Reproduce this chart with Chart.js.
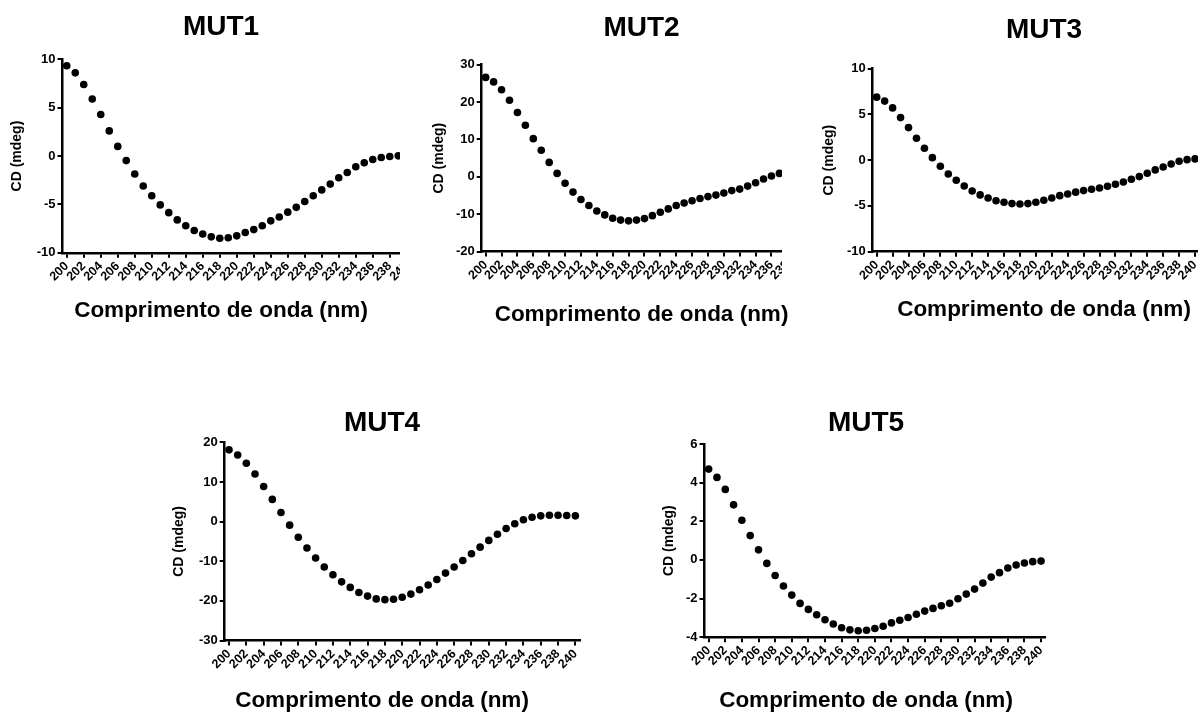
<!DOCTYPE html>
<html><head><meta charset="utf-8">
<script src="https://cdn.jsdelivr.net/npm/chart.js@4.4.1/dist/chart.umd.min.js"></script>
<style>
html,body{margin:0;padding:0;background:#fff;width:1198px;height:713px;overflow:hidden;position:relative;}
.wrap{position:absolute;}
.wrap canvas{position:absolute;left:0;top:0;}
</style></head><body>
<script>
// ---- data ----
const wavelengths = ['200','201','202','203','204','205','206','207','208','209','210','211','212','213','214','215','216','217','218','219','220','221','222','223','224','225','226','227','228','229','230','231','232','233','234','235','236','237','238','239','240'];
const mut1 = [9.34,8.6,7.4,5.9,4.3,2.6,1.0,-0.47,-1.85,-3.1,-4.1,-5.05,-5.85,-6.6,-7.2,-7.7,-8.05,-8.35,-8.5,-8.45,-8.25,-7.9,-7.6,-7.2,-6.7,-6.3,-5.8,-5.3,-4.7,-4.1,-3.5,-2.9,-2.25,-1.7,-1.1,-0.7,-0.35,-0.15,-0.05,0.02,null];
const mut2 = [26.6,25.4,23.3,20.5,17.2,13.8,10.2,7.1,3.85,0.9,-1.75,-4.1,-6.1,-7.7,-9.15,-10.2,-11.1,-11.6,-11.8,-11.6,-11.2,-10.4,-9.5,-8.6,-7.7,-7.0,-6.4,-5.8,-5.3,-4.9,-4.35,-3.7,-3.3,-2.5,-1.6,-0.6,0.2,0.9,1.2,null,null];
const mut3 = [6.87,6.44,5.7,4.64,3.55,2.39,1.29,0.27,-0.67,-1.51,-2.2,-2.82,-3.37,-3.8,-4.13,-4.43,-4.6,-4.75,-4.79,-4.75,-4.6,-4.39,-4.13,-3.88,-3.7,-3.5,-3.33,-3.19,-3.04,-2.86,-2.64,-2.39,-2.09,-1.8,-1.44,-1.07,-0.75,-0.42,-0.13,0.05,0.13];
const mut4 = [18.1,16.8,14.7,12.0,8.85,5.6,2.3,-0.9,-3.95,-6.65,-9.2,-11.45,-13.4,-15.2,-16.6,-17.9,-18.8,-19.5,-19.7,-19.6,-19.1,-18.3,-17.2,-16.0,-14.6,-13.0,-11.45,-9.8,-8.1,-6.45,-4.75,-3.2,-1.75,-0.55,0.45,1.1,1.45,1.6,1.6,1.55,1.45];
const mut5 = [4.70,4.27,3.65,2.85,2.05,1.26,0.52,-0.18,-0.81,-1.35,-1.82,-2.25,-2.56,-2.84,-3.1,-3.32,-3.51,-3.62,-3.67,-3.64,-3.55,-3.43,-3.26,-3.12,-2.98,-2.81,-2.65,-2.51,-2.37,-2.24,-2.01,-1.77,-1.51,-1.2,-0.89,-0.66,-0.42,-0.26,-0.16,-0.09,-0.06];
const titles = ['MUT1','MUT2','MUT3','MUT4','MUT5'];
const series = [mut1, mut2, mut3, mut4, mut5];
const yMins = [-10,-20,-10,-30,-4];
const yMaxs = [10,30,10,20,6];
const ySteps = [5,10,5,10,2];
const xTitle = 'Comprimento de onda (nm)';
const yTitle = 'CD (mdeg)';

// ---- layout (page pixels) ----
const layouts = [
  {cx:0,   cy:0,   L:62.5,  R:411,    T:59.3,  B:252.3, C:221,   ty:27,  xty:310, ytx:17,    clip:[[400,0],[400,2000]]},
  {cx:405, cy:0,   L:481.7, R:806.8,  T:64.7,  B:251,   C:641.3, ty:28,  xty:314, ytx:439,   clip:[[782,0],[782,292],[792,292],[792,2000]]},
  {cx:800, cy:0,   L:872.7, R:1199,   T:68.5,  B:251.2, C:1044,  ty:30,  xty:309, ytx:829.5, clip:null},
  {cx:150, cy:390, L:224.7, R:579.7,  T:442.3, B:640,   C:382,   ty:423, xty:700, ytx:179.5, clip:null},
  {cx:630, cy:390, L:704.5, R:1045.2, T:444,   B:636.7, C:866,   ty:423, xty:700, ytx:669.5, clip:null}
];

const FAMILY = "'Liberation Sans', Arial, Helvetica, sans-serif";
Chart.defaults.font.family = FAMILY;
Chart.defaults.color = '#000';

const TITLE_SIZE = 28, SUB_SIZE = 22.5, YT_SIZE = 14;
const titleLH = TITLE_SIZE * 1.2, subLH = SUB_SIZE * 1.2, ytLH = YT_SIZE * 1.2;
const SBP = 2;

layouts.forEach((g, k) => {
  const tp = g.ty - g.cy - titleLH / 2;
  const bp = g.T - g.cy - titleLH - tp;
  const Hx = g.xty - subLH / 2 - g.B;
  const Hc = g.B + Hx + subLH + SBP - g.cy;
  const Wc = 2 * (g.C - g.cx);
  const Wy = g.L - g.cx;
  const Wr = Wc - Wy - (g.R - g.L);
  const ytp = g.ytx - g.cx - ytLH / 2;

  const wrap = document.createElement('div');
  wrap.className = 'wrap';
  wrap.style.left = g.cx + 'px';
  wrap.style.top = g.cy + 'px';
  wrap.style.width = Wc + 'px';
  wrap.style.height = Hc + 'px';
  if (g.clip) {
    const pts = [[0,0]].concat(g.clip.map(p => [p[0] - g.cx, p[1]])).concat([[0,2000]]);
    wrap.style.clipPath = 'polygon(' + pts.map(p => p[0] + 'px ' + p[1] + 'px').join(',') + ')';
  }
  document.body.appendChild(wrap);
  const cv = document.createElement('canvas');
  cv.width = Math.round(Wc); cv.height = Math.round(Hc);
  cv.style.width = Math.round(Wc) + 'px'; cv.style.height = Math.round(Hc) + 'px';
  wrap.appendChild(cv);

  new Chart(cv, {
    type: 'line',
    data: {
      labels: wavelengths,
      datasets: [{
        data: series[k],
        showLine: false,
        pointRadius: 3.8,
        pointHoverRadius: 3.8,
        pointBackgroundColor: '#000',
        pointBorderColor: '#000',
        pointBorderWidth: 0,
        borderColor: '#000'
      }]
    },
    options: {
      responsive: false,
      animation: false,
      events: [],
      layout: {padding: 0},
      plugins: {
        legend: {display: false},
        tooltip: {enabled: false},
        title: {
          display: true, text: titles[k], color: '#000',
          font: {size: TITLE_SIZE, weight: 'bold', family: FAMILY, lineHeight: 1.2},
          padding: {top: tp, bottom: bp}
        },
        subtitle: {
          display: true, position: 'bottom', text: xTitle, color: '#000',
          font: {size: SUB_SIZE, weight: 'bold', family: FAMILY, lineHeight: 1.2},
          padding: {top: 0, bottom: SBP}
        }
      },
      scales: {
        x: {
          type: 'category',
          offset: true,
          grid: {
            display: true, drawOnChartArea: false, drawTicks: true, offset: false,
            tickLength: 5, lineWidth: 2,
            color: c => (c.index % 2 === 0 ? '#000' : 'rgba(0,0,0,0)'),
            tickColor: c => (c.index % 2 === 0 ? '#000' : 'rgba(0,0,0,0)')
          },
          border: {display: true, color: '#000', width: 2.5},
          ticks: {
            autoSkip: false, minRotation: 45, maxRotation: 45, padding: 1,
            color: '#000', font: {size: 12.5, weight: 'bold'},
            callback: function(v, i) { return i % 2 === 0 ? this.getLabelForValue(v) : ''; }
          },
          afterFit: s => { s.height = Hx; s.paddingLeft = 0; s.paddingRight = 0; }
        },
        y: {
          type: 'linear', position: 'left',
          min: yMins[k], max: yMaxs[k],
          grid: {display: true, drawOnChartArea: false, drawTicks: true, tickLength: 5, lineWidth: 2, color: '#000'},
          border: {display: true, color: '#000', width: 2.5},
          ticks: {stepSize: ySteps[k], padding: 2, color: '#000', font: {size: 13, weight: 'bold'}},
          title: {display: true, text: yTitle, color: '#000', font: {size: YT_SIZE, weight: 'bold', lineHeight: 1.2}, padding: {top: ytp, bottom: 0}},
          afterFit: s => { s.width = Wy; s.paddingTop = 0; s.paddingBottom = 0; }
        },
        y2: {
          type: 'linear', position: 'right', display: true,
          grid: {display: false}, border: {display: false}, ticks: {display: false},
          afterFit: s => { s.width = Wr; s.paddingTop = 0; s.paddingBottom = 0; }
        }
      }
    }
  });
});
</script>
</body></html>
